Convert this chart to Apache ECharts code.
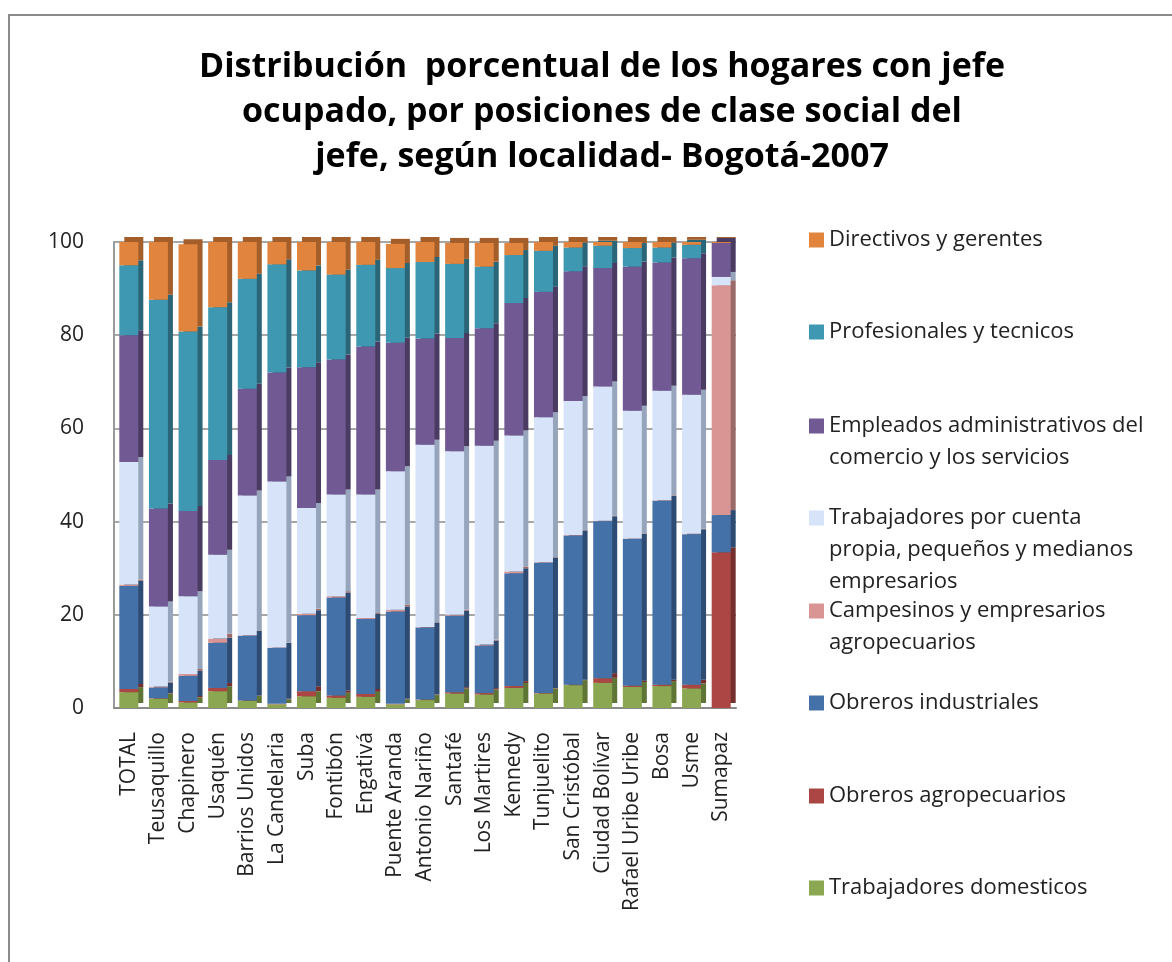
<!DOCTYPE html>
<html>
<head>
    <meta charset="UTF-8">
    <title>Hogares por clase social - Bogotá 2007</title>
    <style type="text/css">
        html, body {
            margin: 0;
            padding: 0;
            background: #fff;
            overflow: hidden;
        }
        #frame {
            position: absolute;
            left: 8px;
            top: 14px;
            width: 1200px;
            height: 1000px;
            border: 2px solid #8a8a8a;
        }
        #chart {
            position: absolute;
            left: 0;
            top: 0;
            width: 1172px;
            height: 962px;
        }
    </style>
    <script src="https://cdn.jsdelivr.net/npm/echarts@6/dist/echarts.min.js"></script>
</head>
<body>
<div id="frame"></div>
<div id="chart"></div>
<script>
    const localidades = ['TOTAL', 'Teusaquillo', 'Chapinero', 'Usaquén', 'Barrios Unidos', 'La Candelaria', 'Suba',
        'Fontibón', 'Engativá', 'Puente Aranda', 'Antonio Nariño', 'Santafé', 'Los Martires', 'Kennedy',
        'Tunjuelito', 'San Cristóbal', 'Ciudad Bolívar', 'Rafael Uribe Uribe', 'Bosa', 'Usme', 'Sumapaz'];
    const yTicks = [0, 20, 40, 60, 80, 100];

    // bottom to top of each bar
    const domesticos = [3.4, 2.0, 1.2, 3.6, 1.5, 0.8, 2.5, 2.2, 2.4, 0.8, 1.7, 3.1, 2.9, 4.3, 3.1, 4.9, 5.4, 4.5, 4.7, 4.2, 0];
    const obrerosAgro = [0.7, 0.1, 0.3, 0.7, 0.1, 0.1, 1.1, 0.5, 0.6, 0.1, 0.1, 0.3, 0.3, 0.4, 0.1, 0.1, 1.0, 0.3, 0.3, 0.8, 33.4];
    const obrerosInd = [22.1, 2.3, 5.4, 9.7, 13.9, 12.0, 16.3, 21.0, 16.1, 19.8, 15.5, 16.4, 10.2, 24.2, 28.0, 32.0, 33.7, 31.5, 39.5, 32.3, 8.0];
    const campesinos = [0.3, 0.2, 0.4, 0.9, 0.1, 0.1, 0.3, 0.3, 0.2, 0.4, 0.1, 0.2, 0.2, 0.4, 0.1, 0.1, 0.1, 0.1, 0.1, 0.1, 49.3];
    const cuentaPropia = [26.3, 17.2, 16.7, 18.0, 30.0, 35.6, 22.7, 21.8, 26.5, 29.7, 39.1, 35.1, 42.7, 29.2, 31.1, 28.8, 28.8, 27.4, 23.5, 29.8, 1.8];
    const empleados = [27.2, 21.0, 18.3, 20.3, 22.9, 23.4, 30.2, 29.0, 31.8, 27.6, 22.8, 24.3, 25.2, 28.4, 26.9, 27.8, 25.4, 30.9, 27.5, 29.3, 7.3];
    const profesionales = [15.0, 44.8, 38.5, 32.8, 23.6, 23.2, 20.8, 18.2, 17.5, 16.0, 16.4, 15.9, 13.2, 10.3, 8.8, 5.1, 4.8, 4.0, 3.2, 2.9, 0];
    const directivos = [5.0, 12.4, 18.7, 14.0, 7.9, 4.9, 6.1, 7.0, 4.9, 5.2, 4.4, 4.5, 5.1, 2.6, 1.9, 1.3, 0.9, 1.4, 1.3, 0.7, 0.2];

    const FONT = '"Open Sans", Lato, sans-serif';

    // name, data, front colour, side colour, legend label lines, legend centre y
    let clases = [
        ['Trabajadores domesticos', domesticos, '#8BA752', '#5E7536', ['Trabajadores domesticos'], 888],
        ['Obreros agropecuarios', obrerosAgro, '#AB4644', '#75302E', ['Obreros agropecuarios'], 796],
        ['Obreros industriales', obrerosInd, '#4571A9', '#2E4C73', ['Obreros industriales'], 703],
        ['Campesinos y empresarios agropecuarios', campesinos, '#D89594', '#9A6A69', ['Campesinos y empresarios', 'agropecuarios'], 611],
        ['Trabajadores por cuenta propia, pequeños y medianos empresarios', cuentaPropia, '#D6E3F8', '#97A5BC', ['Trabajadores por cuenta', 'propia, pequeños y medianos', 'empresarios'], 518],
        ['Empleados administrativos del comercio y los servicios', empleados, '#715A93', '#4A3B62', ['Empleados administrativos del', 'comercio y los servicios'], 426],
        ['Profesionales y tecnicos', profesionales, '#3F98B1', '#2A6677', ['Profesionales y tecnicos'], 332],
        ['Directivos y gerentes', directivos, '#E0843E', '#A35E2A', ['Directivos y gerentes'], 240]
    ];

    // blank lines in front keep the marker level with the first line
    let labelLines = {};
    clases.forEach(c => {
        let pad = [];
        for (let i = 1; i < c[4].length; i++) pad.push(' ');
        labelLines[c[0]] = pad.concat(c[4]).join('\n');
    });

    let series = clases.map(c => ({
        name: c[0],
        type: 'bar',
        stack: 'total',
        barWidth: 19,
        data: c[1],
        itemStyle: {
            color: c[2],
            shadowColor: c[3],
            shadowBlur: 0,
            shadowOffsetX: 5,
            shadowOffsetY: -5
        }
    }));

    const LH = 32;
    let legends = clases.map(c => {
        let n = c[4].length;
        return {
            data: [c[0]],
            left: 809,
            top: c[5] - (2 * n - 1) * LH / 2,
            padding: 0,
            icon: 'rect',
            itemWidth: 15,
            itemHeight: 15,
            itemGap: 0,
            selectedMode: false,
            formatter: name => labelLines[name],
            textStyle: {
                fontFamily: FONT,
                fontSize: 22,
                color: '#222',
                lineHeight: LH
            }
        };
    });

    let myChart = echarts.init(document.getElementById('chart'), null, {renderer: 'canvas'});
    myChart.setOption({
        animation: false,
        backgroundColor: 'transparent',
        title: {
            text: 'Distribución  porcentual de los hogares con jefe\nocupado, por posiciones de clase social del\njefe, según localidad- Bogotá-2007',
            left: 597,
            top: 40,
            textAlign: 'center',
            textStyle: {
                fontFamily: FONT,
                fontSize: 34,
                fontWeight: 'bold',
                color: '#000',
                lineHeight: 45
            }
        },
        legend: legends,
        grid: {
            left: 114,
            right: 436,
            top: 242,
            bottom: 254,
            containLabel: false
        },
        xAxis: {
            type: 'category',
            data: localidades,
            axisTick: {show: false},
            axisLine: {lineStyle: {color: '#8a8a8a', width: 2}},
            axisLabel: {
                rotate: 90,
                interval: 0,
                margin: 24,
                fontFamily: FONT,
                fontSize: 21,
                color: '#222'
            }
        },
        yAxis: {
            type: 'value',
            min: yTicks[0],
            max: yTicks[yTicks.length - 1],
            interval: yTicks[1] - yTicks[0],
            axisLine: {show: true, lineStyle: {color: '#9a9a9a', width: 2}},
            axisTick: {show: false},
            splitLine: {lineStyle: {color: '#8a8a8a', width: 1.5}},
            axisLabel: {
                margin: 30,
                fontFamily: FONT,
                fontSize: 21,
                color: '#222'
            }
        },
        series: series
    });
</script>
</body>
</html>
